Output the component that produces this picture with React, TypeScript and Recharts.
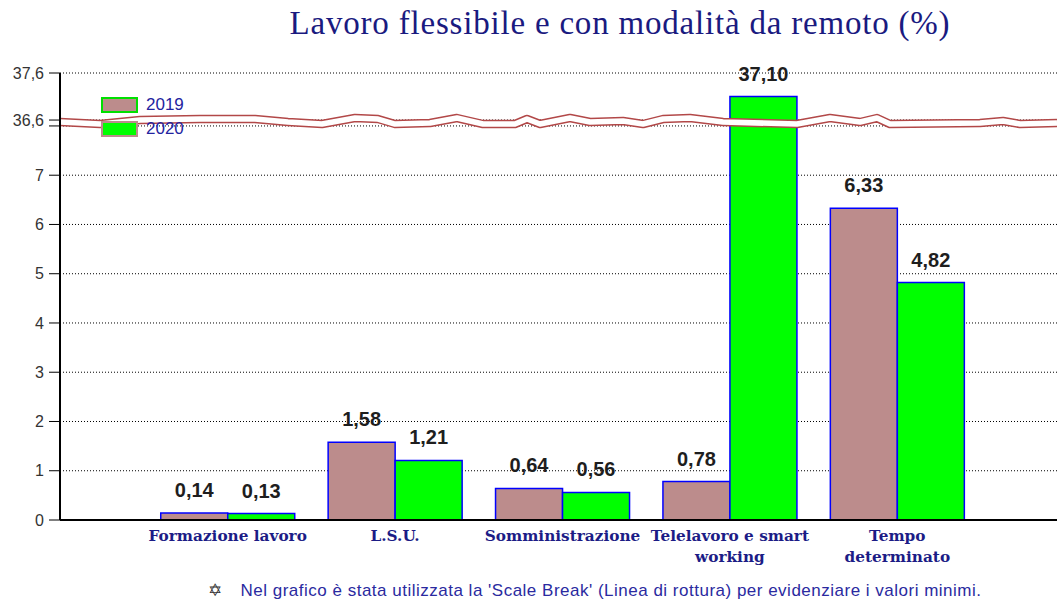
import { BarChart, Bar, XAxis, YAxis, CartesianGrid, Legend, LabelList, ReferenceLine } from "recharts";

const categories = ["Formazione lavoro", "L.S.U.", "Somministrazione", "Telelavoro e smart\nworking", "Tempo\ndeterminato"];
const values2019 = [0.14, 1.58, 0.64, 0.78, 6.33];
const values2020 = [0.13, 1.21, 0.56, 37.1, 4.82];
const yTickValues = [0, 1, 2, 3, 4, 5, 6, 7, 8, 36.6, 37.6];

// scale break: lower segment 0..8, upper segment 36.6..37.6 (slightly compressed)
const LOW_MAX = 8;
const HIGH_MIN = 36.6;
const GAP = 0.12;
const UPPER_RATIO = 0.955;
const toScale = (v: number) => (v <= LOW_MAX ? v : LOW_MAX + GAP + (v - HIGH_MIN) * UPPER_RATIO);

// wavy break line profile (x from axis, dy from centre)
const wave = [
  [0, 0.5], [40, 2.5], [80, -1.5], [140, -2.5], [195, -2.5], [228, 0.5], [262, 2.5], [295, -3.5],
  [318, -2.5], [335, 2.5], [370, 1.5], [397, -3.5], [423, 2.5], [455, 2.5], [467, -2.5], [480, 2.5],
  [510, -3.5], [530, 0.5], [563, -0.5], [583, 2.5], [603, -2.5], [630, -3.5], [663, 0.5], [737, 2.5],
  [770, -3.5], [800, 0.5], [817, -3.5], [830, 2.5], [920, 1.5], [943, -0.5], [960, 2.5], [1000, 1.5],
];

const fmt = (v: number) => v.toFixed(2).replace(".", ",");

const series = [
  { key: "y2019", label: "l2019", name: "2019", fill: "#bc8c8c", border: "#00e000" },
  { key: "y2020", label: "l2020", name: "2020", fill: "#00ff00", border: "#bc8c8c" },
];

const chartData = categories.map((c, i) => ({
  name: c,
  y2019: toScale(values2019[i]),
  y2020: toScale(values2020[i]),
  l2019: fmt(values2019[i]),
  l2020: fmt(values2020[i]),
}));

const tickLabel = (pos: number) => {
  const raw = yTickValues.find((v) => Math.abs(toScale(v) - pos) < 1e-6);
  if (raw === undefined || raw === LOW_MAX) return "";
  return String(raw).replace(".", ",");
};

function CategoryTick(props: any) {
  const { x, y, payload } = props;
  const lines = String(payload.value).split("\n");
  return (
    <text x={x} y={y + 13} textAnchor="middle" fill="#1c1c86" fontFamily="'DejaVu Serif', serif" fontWeight="bold" fontSize={15.3}>
      {lines.map((l, i) => (
        <tspan key={i} x={x} dy={i === 0 ? 0 : 21}>{l}</tspan>
      ))}
    </text>
  );
}

function WaveBreak(props: any) {
  const x1 = Number(props.x1 ?? 60);
  const x2 = Number(props.x2 ?? 1057);
  const y = Number(props.y1 ?? 121);
  const pts = wave.filter((p) => x1 + p[0] <= x2).map((p) => `${x1 + p[0]},${y + p[1]}`);
  pts.push(`${x2},${y + wave[wave.length - 1][1]}`);
  const d = "M" + pts.join(" L");
  return (
    <g>
      <path d={d} fill="none" stroke="#b24848" strokeWidth={8.5} strokeLinejoin="round" />
      <path d={d} fill="none" stroke="#ffffff" strokeWidth={5.5} strokeLinejoin="round" />
    </g>
  );
}

function LegendBox() {
  return (
    <div style={{ fontFamily: "'Liberation Sans', Arial, sans-serif", fontSize: 17, color: "#2323a0" }}>
      {series.map((s) => (
        <div key={s.key} style={{ display: "flex", alignItems: "center", height: 24 }}>
          <div style={{ width: 33, height: 12, background: s.fill, border: `2px solid ${s.border}`, marginRight: 8 }} />
          <span>{s.name}</span>
        </div>
      ))}
    </div>
  );
}

export default function App() {
  return (
    <div style={{ position: "absolute", left: 0, top: 0, width: 1057, height: 603, background: "#fff" }}>
      <div style={{
        position: "absolute", left: 0, top: 5, width: 1240, textAlign: "center",
        fontFamily: "'Liberation Serif', serif", fontSize: 33, letterSpacing: 0.8, color: "#1a1a80",
      }}>
        Lavoro flessibile e con modalità da remoto (%)
      </div>
      <BarChart
        width={1057}
        height={603}
        data={chartData}
        margin={{ top: 73, right: 0, left: 0, bottom: 0 }}
        barCategoryGap="10%"
        barGap={0}
      >
        <CartesianGrid vertical={false} stroke="#000" strokeDasharray="1 2" />
        <XAxis
          dataKey="name"
          height={83}
          padding={{ left: 84, right: 76 }}
          tickLine={false}
          axisLine={{ stroke: "#000", strokeWidth: 2 }}
          tick={<CategoryTick />}
          interval={0}
        />
        <YAxis
          width={60}
          domain={[0, toScale(37.6)]}
          ticks={yTickValues.map(toScale)}
          tickFormatter={tickLabel}
          interval={0}
          tickSize={11}
          tickMargin={5}
          axisLine={{ stroke: "#000", strokeWidth: 2 }}
          tickLine={{ stroke: "#000" }}
          tick={{ fill: "#333", fontSize: 16, fontFamily: "'Liberation Sans', Arial, sans-serif" }}
        />
        <Legend
          layout="vertical"
          align="center"
          verticalAlign="middle"
          content={<LegendBox />}
          wrapperStyle={{ left: 101, top: 93, width: 100 }}
        />
        {series.map((s) => (
          <Bar key={s.key} dataKey={s.key} name={s.name} fill={s.fill} stroke="#0000ff" strokeWidth={1.5} isAnimationActive={false}>
            <LabelList
              dataKey={s.label}
              position="top"
              offset={16}
              fill="#1e1e1e"
              fontSize={20}
              fontWeight="bold"
              fontFamily="'Liberation Sans', Arial, sans-serif"
            />
          </Bar>
        ))}
        <ReferenceLine y={8.09} ifOverflow="visible" shape={(p: any) => <WaveBreak {...p} />} />
      </BarChart>
      <div style={{
        position: "absolute", left: 208, top: 580, whiteSpace: "nowrap",
        fontFamily: "'Liberation Sans', Arial, sans-serif", fontSize: 17, letterSpacing: 0.5, color: "#2a2aa0",
      }}>
        <span style={{ color: "#333", marginRight: 18 }}>✡</span>
        Nel grafico è stata utilizzata la 'Scale Break' (Linea di rottura) per evidenziare i valori minimi.
      </div>
    </div>
  );
}
